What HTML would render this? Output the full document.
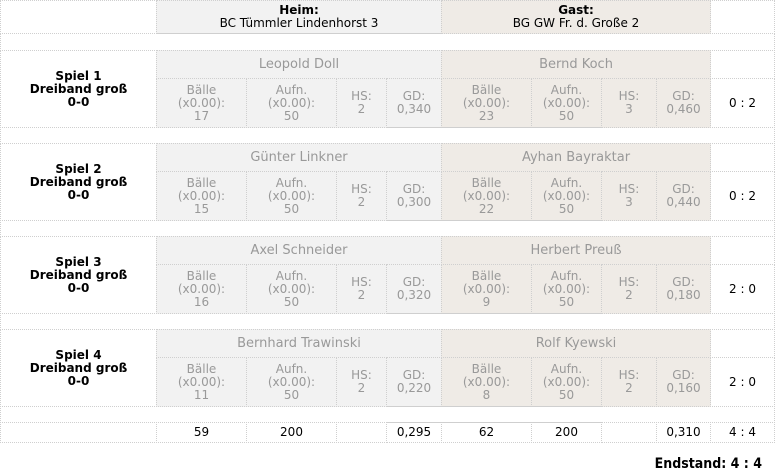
<!DOCTYPE html>
<html><head><meta charset="utf-8"><style>
body{margin:0;width:775px;height:472px;background:#fff;font-family:"DejaVu Sans",Verdana,"Liberation Sans",sans-serif;font-size:12px;position:relative;overflow:hidden}
.c{position:absolute;box-sizing:border-box;display:flex;flex-direction:column;align-items:center;justify-content:center;text-align:center;border:1px dotted #cfcfcf;line-height:13px;white-space:nowrap}
.h{background:#f2f2f2}.g{background:#efebe6}.gr{color:#999}.b{font-weight:bold;color:#000}
.n{font-size:13px;color:#999}
</style></head><body>
<div class="c" style="left:0;top:0;width:157px;height:34px"></div>
<div class="c h" style="left:156px;top:0;width:286px;height:34px;color:#000;font-size:12px"><span class="b">Heim:</span>BC Tümmler Lindenhorst 3</div>
<div class="c g" style="left:441px;top:0;width:270px;height:34px;color:#000;font-size:12px"><span class="b">Gast:</span>BG GW Fr. d. Große 2</div>
<div class="c" style="left:710px;top:0;width:65px;height:34px"></div>
<div class="c" style="left:0;top:33px;width:775px;height:18px"></div>

<div id="games"></div>
<script>
var G=[["Leopold Doll",17,50,2,"0,340","Bernd Koch",23,50,3,"0,460","0 : 2"],
["Günter Linkner",15,50,2,"0,300","Ayhan Bayraktar",22,50,3,"0,440","0 : 2"],
["Axel Schneider",16,50,2,"0,320","Herbert Preuß",9,50,2,"0,180","2 : 0"],
["Bernhard Trawinski",11,50,2,"0,220","Rolf Kyewski",8,50,2,"0,160","2 : 0"]];
var X=[156,246,336,386,441,531,601,656,710];
var h="";
function c(cls,x,y,w,hh,t){h+='<div class="c '+cls+'" style="left:'+x+'px;top:'+y+'px;width:'+w+'px;height:'+hh+'px">'+t+'</div>';}
G.forEach(function(g,i){var y=50+i*93;
c("b",0,y,157,78,"Spiel "+(i+1)+"<br>Dreiband groß<br>0-0");
c("h n",156,y,286,29,g[0]);c("g n",441,y,270,29,g[5]);
c("",710,y,65,29,"");
for(var s=0;s<2;s++){var o=s*4,cl=s?"g gr":"h gr",d=g.slice(1+s*5,5+s*5);
c(cl,X[o],y+28,X[o+1]-X[o]+1,50,"Bälle<br>(x0.00):<br>"+d[0]);
c(cl,X[o+1],y+28,X[o+2]-X[o+1]+1,50,"Aufn.<br>(x0.00):<br>"+d[1]);
c(cl,X[o+2],y+28,X[o+3]-X[o+2]+1,50,"HS:<br>"+d[2]);
c(cl,X[o+3],y+28,X[o+4]-X[o+3]+1,50,"GD:<br>"+d[3]);}
c("",710,y+28,65,50,'<span style="font-size:12px">'+g[10]+'</span>');
c("",0,y+77,775,17,"");
});
var T=["59","200","","0,295","62","200","","0,310"];
c("",0,422,157,21,"");
for(var k=0;k<8;k++)c("",X[k],422,X[k+1]-X[k]+1,21,T[k]);
c("",710,422,65,21,'<span style="font-size:12px">4 : 4</span>');
document.getElementById("games").innerHTML=h;
</script>
<div style="position:absolute;right:13px;top:456px;font-weight:bold;font-size:14px;color:#000;font-family:'Liberation Sans Narrow','DejaVu Sans Condensed',sans-serif">Endstand: 4 : 4</div>
</body></html>
